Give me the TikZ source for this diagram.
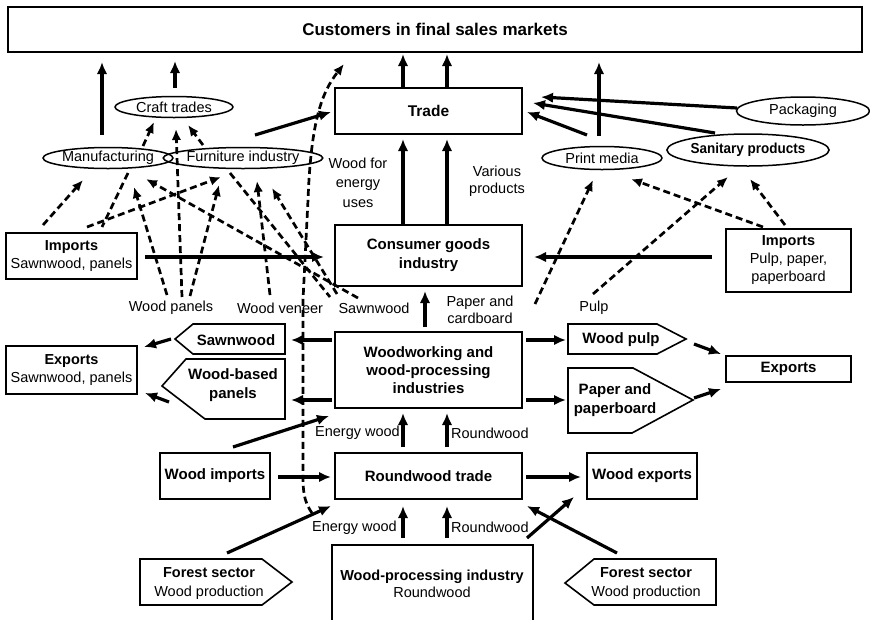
\documentclass[tikz,border=0pt]{standalone}
\usepackage{fontspec}
\usepackage{graphicx}
\setmainfont{Liberation Sans}
\usetikzlibrary{arrows.meta,shapes.geometric}
\begin{document}
\begin{tikzpicture}[x=1pt,y=-1pt,
  box/.style={draw,line width=1.6pt,inner sep=0pt,align=center,font=\fontsize{14.5}{18}\selectfont},
  ell/.style={draw,ellipse,line width=1.5pt,inner sep=0pt,font=\fontsize{14.5}{17}\selectfont},
  tag/.style={draw,line width=1.6pt,line join=miter},
  lbl/.style={inner sep=0pt,align=center,font=\fontsize{14.5}{17}\selectfont},
  blbl/.style={inner sep=0pt,align=center,font=\fontsize{15}{19}\selectfont\bfseries},
  arr/.style={line width=3.2pt,-{Latex[length=12pt,width=10.5pt]}},
  darr/.style={line width=2.7pt,dash pattern=on 7pt off 4pt,-{Latex[length=11pt,width=9.5pt]}},
  dline/.style={line width=2.7pt,dash pattern=on 7pt off 4pt},
]
\useasboundingbox (0,0) rectangle (870,619);

% ---------- boxes ----------
\node[box,minimum width=854pt,minimum height=45pt] (cust) at (435,29.5) {\fontsize{17}{20}\selectfont\bfseries Customers in final sales markets};
\node[box,minimum width=187pt,minimum height=46pt,font=\fontsize{15.5}{18}\selectfont\bfseries] (trade) at (428.5,111) {Trade};
\node[box,minimum width=187pt,minimum height=61pt,font=\fontsize{15}{19}\selectfont\bfseries] (cons) at (428.5,255.5) {Consumer goods\\industry};
\node[box,minimum width=187pt,minimum height=76pt,font=\fontsize{15}{18}\selectfont\bfseries] (wood) at (428.5,370) {Woodworking and\\wood-processing\\industries};
\node[box,minimum width=187pt,minimum height=46pt,font=\fontsize{15}{18}\selectfont\bfseries] (rtrade) at (428.5,476) {Roundwood trade};
\node[box,minimum width=110pt,minimum height=46pt,font=\fontsize{15}{18}\selectfont\bfseries] (wimp) at (215,476) {Wood imports};
\node[box,minimum width=110pt,minimum height=46pt,font=\fontsize{15}{18}\selectfont\bfseries] (wexp) at (642,476) {Wood exports};
\node[box,minimum width=131pt,minimum height=46pt] (impl) at (71.5,256) {\textbf{Imports}\\Sawnwood, panels};
\node[box,minimum width=131pt,minimum height=48pt] (expl) at (71.5,370) {\textbf{Exports}\\Sawnwood, panels};
\node[box,minimum width=125pt,minimum height=63pt] (impr) at (788.5,260.5) {\textbf{Imports}\\Pulp, paper,\\paperboard};
\node[box,minimum width=125pt,minimum height=26pt,font=\fontsize{15}{18}\selectfont\bfseries] (expr) at (788.5,369) {Exports};
\node[box,minimum width=201pt,minimum height=110pt] (wpi) at (432.5,600) {};
\node[lbl,font=\fontsize{14.5}{17}\selectfont] (wpit) at (432,583.5) {\textbf{Wood-processing industry}\\Roundwood};

% ---------- ellipses ----------
\node[ell,minimum width=118pt,minimum height=21pt] (craft) at (174,107) {Craft trades};
\node[ell,minimum width=118pt,minimum height=21pt] (manu) at (108,158) {Manufacturing};
\node[ell,minimum width=126pt,minimum height=21pt] (furn) at (243,158) {Furniture industry};
\node[ell,minimum width=120pt,minimum height=23pt] (print) at (602,158) {Print media};
\node[ell,minimum width=133pt,minimum height=32pt] (sani) at (748,150) {\scalebox{0.93}[1]{\bfseries Sanitary products}};
\node[ell,minimum width=133pt,minimum height=28pt] (pack) at (803,111) {Packaging};

% ---------- tags ----------
\draw[tag] (285,324) -- (193,324) -- (175,339) -- (193,354) -- (285,354) -- cycle;
\node[blbl] (tsaw) at (236,340) {Sawnwood};
\draw[tag] (285,359) -- (186,359) -- (162,386) -- (205,419) -- (285,419) -- cycle;
\node[blbl] (twbp) at (233,385.5) {Wood-based\\panels};
\draw[tag] (568,324) -- (657,324) -- (686,339) -- (657,354) -- (568,354) -- cycle;
\node[blbl] (tpulp) at (621,340) {Wood pulp};
\draw[tag] (568,368) -- (633,368) -- (693,400) -- (632,433) -- (568,433) -- cycle;
\node[blbl] (tpaper) at (615,400.5) {Paper and\\paperboard};
\draw[tag] (140,559) -- (262,559) -- (292,582) -- (262,605) -- (140,605) -- cycle;
\node[lbl,font=\fontsize{14.5}{19}\selectfont] (tfl) at (209,583.5) {\textbf{Forest sector}\\Wood production};
\draw[tag] (716,559) -- (594,559) -- (565,583) -- (594,605) -- (716,605) -- cycle;
\node[lbl,font=\fontsize{14.5}{19}\selectfont] (tfr) at (646,583.5) {\textbf{Forest sector}\\Wood production};

% ---------- labels ----------
\node[lbl] (lwp) at (171,308) {Wood panels};
\node[lbl] (lwv) at (280,308) {Wood veneer};
\node[lbl] (lsw) at (374,308) {Sawnwood};
\node[lbl] (lpc) at (480,309.5) {Paper and\\cardboard};
\node[lbl] (lpulp) at (594,308) {Pulp};
\node[lbl,font=\fontsize{14.5}{19.5}\selectfont] (lwfe) at (358,182.5) {Wood for\\energy\\uses};
\node[lbl] (lvp) at (497,181) {Various\\products};
\node[lbl,anchor=east] (lew1) at (400,433) {Energy wood};
\node[lbl,anchor=west] (lrw1) at (451,433) {Roundwood};
\node[lbl,anchor=east] (lew2) at (397,528) {Energy wood};
\node[lbl,anchor=west] (lrw2) at (451,527) {Roundwood};

% ---------- connector end points ----------
\coordinate (s1a) at (403,88);  \coordinate (s1b) at (403,54);
\coordinate (s2a) at (447,88);  \coordinate (s2b) at (447,54);
\coordinate (s3a) at (403,224); \coordinate (s3b) at (403,139);
\coordinate (s4a) at (447,224); \coordinate (s4b) at (447,139);
\coordinate (s5a) at (425,327); \coordinate (s5b) at (425,291);
\coordinate (s6a) at (145,257); \coordinate (s6b) at (324,257);
\coordinate (s7a) at (712,257); \coordinate (s7b) at (534,257);
\coordinate (s8a) at (332,340); \coordinate (s8b) at (291,340);
\coordinate (s9a) at (332,400); \coordinate (s9b) at (291,400);
\coordinate (s10a) at (171,339); \coordinate (s10b) at (144,347);
\coordinate (s11a) at (169,402); \coordinate (s11b) at (145,393);
\coordinate (s12a) at (526,340); \coordinate (s12b) at (566,340);
\coordinate (s13a) at (526,400); \coordinate (s13b) at (566,400);
\coordinate (s14a) at (694,344); \coordinate (s14b) at (721,354);
\coordinate (s15a) at (694,398); \coordinate (s15b) at (721,389);
\coordinate (s16a) at (403,447); \coordinate (s16b) at (403,413);
\coordinate (s17a) at (447,447); \coordinate (s17b) at (447,413);
\coordinate (s18a) at (233,447); \coordinate (s18b) at (329,416);
\coordinate (s19a) at (278,477); \coordinate (s19b) at (331,477);
\coordinate (s20a) at (526,477); \coordinate (s20b) at (581,477);
\coordinate (s21a) at (403,538); \coordinate (s21b) at (403,506);
\coordinate (s22a) at (447,538); \coordinate (s22b) at (447,506);
\coordinate (s23a) at (227,553); \coordinate (s23b) at (331,506);
\coordinate (s24a) at (617,553); \coordinate (s24b) at (527,506);
\coordinate (s25a) at (527,538); \coordinate (s25b) at (574,497);
\coordinate (s26a) at (102,135); \coordinate (s26b) at (102,62);
\coordinate (s27a) at (175,88);  \coordinate (s27b) at (175,61);
\coordinate (s28a) at (255,135); \coordinate (s28b) at (331,112);
\coordinate (s29a) at (599,136); \coordinate (s29b) at (599,62);
\coordinate (s30a) at (587,135); \coordinate (s30b) at (527,112);
\coordinate (s31a) at (715,133); \coordinate (s31b) at (533,103);
\coordinate (s32a) at (737,108); \coordinate (s32b) at (541,97);

\coordinate (d1a) at (143,146); \coordinate (d1b) at (154,122);
\coordinate (d2a) at (203,145); \coordinate (d2b) at (188,125);
\coordinate (d3a) at (182,297); \coordinate (d3b) at (176,129);
\coordinate (d4a) at (167,295); \coordinate (d4b) at (134,187);
\coordinate (d5a) at (190,296); \coordinate (d5b) at (219,185);
\coordinate (d6a) at (43,225);  \coordinate (d6b) at (83,180);
\coordinate (d7a) at (87,227);  \coordinate (d7b) at (221,177);
\coordinate (d8a) at (128,173); \coordinate (d8b) at (102,227);
\coordinate (d9a) at (358,298); \coordinate (d9b) at (146,179);
\coordinate (d10a) at (230,173); \coordinate (d10b) at (330,297);
\coordinate (d11a) at (270,295); \coordinate (d11b) at (257,181);
\coordinate (d12a) at (337,294); \coordinate (d12b) at (272,188);
\coordinate (d13a) at (312,513); \coordinate (d13b) at (344,64);
\coordinate (d14a) at (535,304); \coordinate (d14b) at (593,180);
\coordinate (d15a) at (593,294); \coordinate (d15b) at (728,177);
\coordinate (d16a) at (763,227); \coordinate (d16b) at (631,179);
\coordinate (d17a) at (785,225); \coordinate (d17b) at (750,179);

% ---------- solid connectors ----------
\foreach \i in {1,...,32} { \draw[arr] (s\i a) -- (s\i b); }

% ---------- dashed connectors ----------
\foreach \i in {1,2,3,4,5,6,7,9,11,12,14,15,16,17} { \draw[darr] (d\i a) -- (d\i b); }
\draw[dline] (d8a) -- (d8b);
\draw[dline] (d10a) -- (d10b);
\draw[darr] (d13a) .. controls (303,500) and (303,490) .. (303,470) -- (303,300) -- (308,200) .. controls (311,120) and (322,92) .. (d13b);
\end{tikzpicture}
\end{document}
